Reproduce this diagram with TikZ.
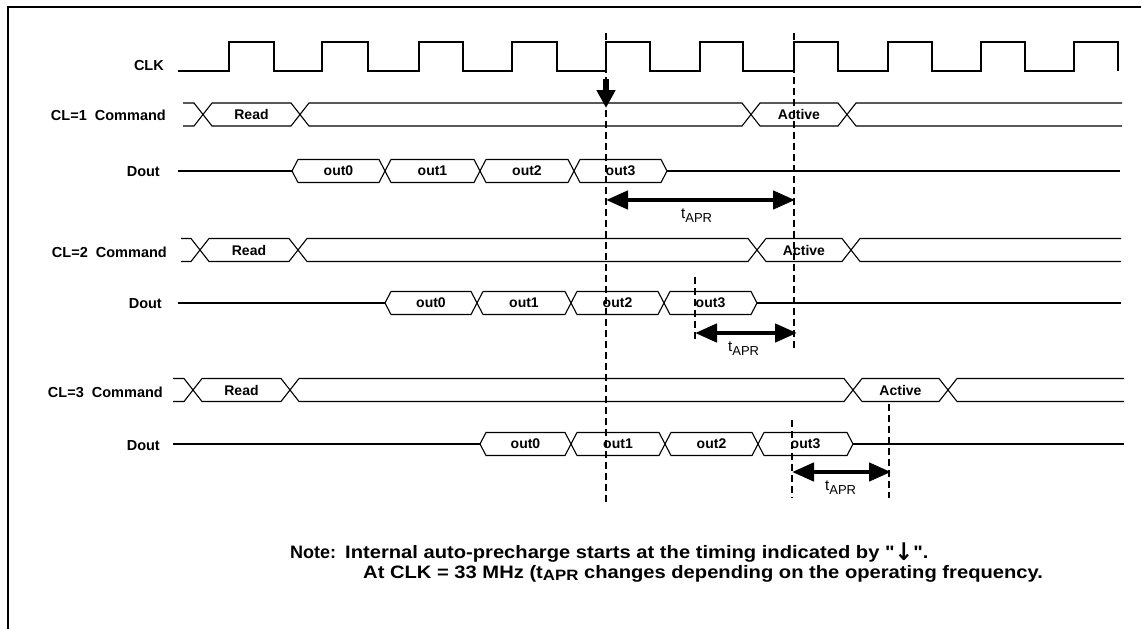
\documentclass[tikz,border=0pt]{standalone}
\usepackage{graphicx}
\usepackage{fontspec}
\setmainfont{Liberation Sans}
\newfontfamily\symfont{DejaVu Sans}
\newfontfamily\qfont[Ligatures=TeXOff]{Liberation Sans}
\usetikzlibrary{arrows.meta}
\tikzset{
  sig/.style={line width=1.1pt, line join=miter},
  frame/.style={line width=1.6pt},
  cell/.style={font=\fontsize{14}{15}\selectfont\bfseries, inner sep=0pt},
  rowlbl/.style={font=\fontsize{14.5}{16}\selectfont\bfseries, anchor=east, inner sep=0pt},
  notetxt/.style={font=\fontsize{18}{20}\selectfont\bfseries, anchor=base west, inner sep=0pt},
  aprlbl/.style={inner sep=0pt, anchor=north west},
  guide/.style={line width=1.2pt, dash pattern=on 7pt off 4pt},
  fat/.style={line width=4.5pt, {Triangle[width=18pt,length=22pt]}-{Triangle[width=18pt,length=22pt]}},
  fatdown/.style={line width=6pt, -{Triangle[width=18pt,length=18pt]}},
}
\newcommand{\hexshape}[4]{% a, b, yc, d
  \draw[sig] (#1,#3) -- ({#1+#4},{#3-11.5}) -- ({#2-#4},{#3-11.5}) -- (#2,#3)
    -- ({#2-#4},{#3+11.5}) -- ({#1+#4},{#3+11.5}) -- cycle;}
\newcommand{\hexcell}[6]{% name, a, b, yc, d, text
  \hexshape{#2}{#3}{#4}{#5}
  \node[cell] (#1) at ({(#2+#3)/2},#4) {#6};}
\newcommand{\leadin}[4]{% x0, X, yc, d
  \draw[sig] (#1,{#3-11.5}) -- ({#2-#4},{#3-11.5}) -- (#2,#3) -- ({#2-#4},{#3+11.5}) -- (#1,{#3+11.5});}
\newcommand{\leadout}[4]{% X, xend, yc, d
  \draw[sig] (#2,{#3-11.5}) -- ({#1+#4},{#3-11.5}) -- (#1,#3) -- ({#1+#4},{#3+11.5}) -- (#2,{#3+11.5});}
\newcommand{\tapr}{{\fontsize{15}{15}\selectfont t}\raisebox{-3.5pt}{\fontsize{13}{13}\selectfont APR}}
\begin{document}
\begin{tikzpicture}[x=1pt,y=-1pt]
\useasboundingbox (0,0) rectangle (1141,629);
\draw[frame] (8,629) -- (8,7) -- (1141,7);

% row labels
\node[rowlbl] (lclk) at (164,66) {CLK};
\node[rowlbl] (lc1) at (166,115) {CL=1\ \ Command};
\node[rowlbl] (ld1) at (160,172) {Dout};
\node[rowlbl] (lc2) at (167,252) {CL=2\ \ Command};
\node[rowlbl] (ld2) at (162,304) {Dout};
\node[rowlbl] (lc3) at (163,392) {CL=3\ \ Command};
\node[rowlbl] (ld3) at (160,446) {Dout};

% clock
\draw[sig] (178,71) -- (229,71) -- (229,42) -- (274,42) -- (274,71)
  -- (322,71) -- (322,42) -- (368,42) -- (368,71)
  -- (419,71) -- (419,42) -- (463,42) -- (463,71)
  -- (512,71) -- (512,42) -- (557,42) -- (557,71)
  -- (606,71) -- (606,42) -- (650,42) -- (650,71)
  -- (700,71) -- (700,42) -- (743,42) -- (743,71)
  -- (794,71) -- (794,42) -- (838,42) -- (838,71)
  -- (888,71) -- (888,42) -- (932,42) -- (932,71)
  -- (981,71) -- (981,42) -- (1025,42) -- (1025,71)
  -- (1074,71) -- (1074,42) -- (1118,42) -- (1118,71);

% CL=1 command
\leadin{183}{203}{114.5}{9}
\hexcell{rd1}{203}{300}{114.5}{9}{Read}
\hexshape{300}{751}{114.5}{9}
\hexcell{ac1}{751}{847}{114.5}{9}{Active}
\leadout{847}{1122}{114.5}{9}

% CL=1 Dout
\draw[sig] (178,171) -- (292,171);
\hexcell{o10}{292}{385}{171}{6}{out0}
\hexcell{o11}{385}{480}{171}{6}{out1}
\hexcell{o12}{480}{574}{171}{6}{out2}
\hexcell{o13}{574}{667}{171}{6}{out3}
\draw[sig] (667,171) -- (1120,171);

% CL=2 command
\leadin{181}{200}{250}{9}
\hexcell{rd2}{200}{298}{250}{9}{Read}
\hexshape{298}{757}{250}{9}
\hexcell{ac2}{757}{851}{250}{9}{Active}
\leadout{851}{1121}{250}{9}

% CL=2 Dout
\draw[sig] (178,303) -- (385,303);
\hexcell{o20}{385}{477}{303}{6}{out0}
\hexcell{o21}{477}{571}{303}{6}{out1}
\hexcell{o22}{571}{664}{303}{6}{out2}
\hexcell{o23}{664}{757}{303}{6}{out3}
\draw[sig] (757,303) -- (1121,303);

% CL=3 command
\leadin{173}{193}{390}{9}
\hexcell{rd3}{193}{290}{390}{9}{Read}
\hexshape{290}{853}{390}{9}
\hexcell{ac3}{853}{948}{390}{9}{Active}
\leadout{948}{1124}{390}{9}

% CL=3 Dout
\draw[sig] (173,444) -- (480,444);
\hexcell{o30}{480}{571}{444}{6}{out0}
\hexcell{o31}{571}{665}{444}{6}{out1}
\hexcell{o32}{665}{758}{444}{6}{out2}
\hexcell{o33}{758}{853}{444}{6}{out3}
\draw[sig] (853,444) -- (1124,444);

% dashed guides
\coordinate (g1t) at (606,33);  \coordinate (g1b) at (606,505);
\coordinate (g2t) at (794,33);  \coordinate (g2b) at (794,348);
\coordinate (g3t) at (695,277); \coordinate (g3b) at (695,340);
\coordinate (g4t) at (792,420); \coordinate (g4b) at (792,498);
\coordinate (g5t) at (889,404); \coordinate (g5b) at (889,498);
\draw[guide] (g1t) -- (g1b);
\draw[guide] (g2t) -- (g2b);
\draw[guide] (g3t) -- (g3b);
\draw[guide] (g4t) -- (g4b);
\draw[guide] (g5t) -- (g5b);

% auto-precharge arrow
\coordinate (pa) at (606,79); \coordinate (pb) at (606,108);
\draw[fatdown] (pa) -- (pb);

% tAPR arrows
\coordinate (a1l) at (606,200); \coordinate (a1r) at (795,200);
\coordinate (a2l) at (695,333); \coordinate (a2r) at (797,333);
\coordinate (a3l) at (792,472); \coordinate (a3r) at (891,472);
\draw[fat] (a1l) -- (a1r);
\draw[fat] (a2l) -- (a2r);
\draw[fat] (a3l) -- (a3r);
\node[aprlbl] (t1) at (681,209) {\tapr};
\node[aprlbl] (t2) at (728,342) {\tapr};
\node[aprlbl] (t3) at (825,481) {\tapr};

% note
\node[notetxt] (n0) at (290,558) {Note:};
\node[notetxt] (n1) at (345,558) {\scalebox{1.12}[1]{Internal auto-precharge starts at the timing indicated by {\qfont"}\raisebox{-2pt}{\symfont\bfseries\scalebox{1.1}[1.35]{↓}}{\qfont".}}};
\node[notetxt] (n2) at (363,578) {\scalebox{1.12}[1]{At CLK = 33 MHz (t\raisebox{-2.5pt}{\fontsize{15}{15}\selectfont APR} changes depending on the operating frequency.}};
\end{tikzpicture}
\end{document}
